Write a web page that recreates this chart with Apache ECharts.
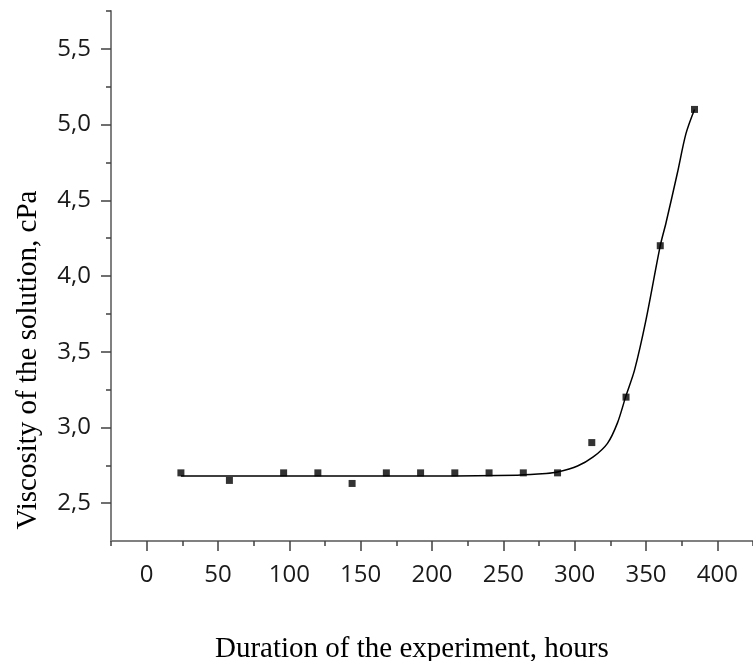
<!DOCTYPE html>
<html>
<head>
<meta charset="utf-8">
<script src="https://cdn.jsdelivr.net/npm/echarts@6/dist/echarts.min.js"></script>
<style>
  html, body { margin: 0; padding: 0; background: #fff; }
  #chart { width: 753px; height: 661px; }
</style>
</head>
<body>
<div id="chart"></div>
<script>
// measured points
const hours = [24, 58, 96, 120, 144, 168, 192, 216, 240, 264, 288, 312, 336, 360, 384]
const viscosity = [2.70, 2.65, 2.70, 2.70, 2.63, 2.70, 2.70, 2.70, 2.70, 2.70, 2.70, 2.90, 3.20, 4.20, 5.10]

// fitted curve
const fitHours = [24, 100, 200, 260, 280, 288, 302, 313, 323, 330, 336, 342, 350, 360, 364, 372, 378, 384]
const fitVisc = [2.68, 2.68, 2.68, 2.685, 2.695, 2.705, 2.745, 2.805, 2.895, 3.03, 3.21, 3.38, 3.71, 4.2, 4.35, 4.68, 4.94, 5.1]

// axis ticks
const xMajor = [0, 50, 100, 150, 200, 250, 300, 350, 400]
const xMinor = [-25, 25, 75, 125, 175, 225, 275, 325, 375, 425]
const yMajor = [2.5, 3.0, 3.5, 4.0, 4.5, 5.0, 5.5]
const yMinor = [2.75, 3.25, 3.75, 4.25, 4.75, 5.25, 5.75]

const xTitle = 'Duration of the experiment, hours'
const yTitle = 'Viscosity of the solution, cPa'

const chart = echarts.init(document.getElementById('chart'))

const labelFont = {
  fontFamily: 'Open Sans',
  fontSize: 24,
  color: '#1a1a1a'
}
const axisLine = { show: true, onZero: false, lineStyle: { color: '#808080', width: 2 } }

const option = {
  animation: false,
  grid: { left: 111, top: 11, right: -8.5, bottom: 120 },
  title: {
    text: xTitle,
    left: 210,
    top: 630,
    textStyle: { fontFamily: 'Liberation Serif', fontSize: 29, fontWeight: 'normal', color: '#000' }
  },
  graphic: [
    {
      type: 'text',
      x: 28,
      y: 360,
      rotation: Math.PI / 2,
      style: {
        text: yTitle,
        fontFamily: 'Liberation Serif',
        fontSize: 29,
        fill: '#000',
        align: 'center',
        verticalAlign: 'middle'
      }
    }
  ],
  xAxis: [
    {
      type: 'value',
      position: 'bottom',
      min: -25,
      max: 425,
      interval: 25,
      axisLine: axisLine,
      splitLine: { show: false },
      axisTick: { show: true, customValues: xMajor, length: 10, lineStyle: { color: '#404040', width: 1.5 } },
      axisLabel: Object.assign({ customValues: xMajor, margin: 22 }, labelFont)
    },
    {
      type: 'value',
      position: 'bottom',
      offset: 0,
      min: -25,
      max: 425,
      interval: 25,
      axisLine: { show: false, onZero: false },
      splitLine: { show: false },
      axisTick: { show: true, customValues: xMinor, length: 5, lineStyle: { color: '#404040', width: 1.5 } },
      axisLabel: { show: false }
    }
  ],
  yAxis: [
    {
      type: 'value',
      position: 'left',
      min: 2.25,
      max: 5.75,
      interval: 0.25,
      axisLine: axisLine,
      splitLine: { show: false },
      axisTick: { show: true, customValues: yMajor, length: 10, lineStyle: { color: '#404040', width: 1.5 } },
      axisLabel: Object.assign({
        customValues: yMajor,
        margin: 20,
        formatter: v => v.toFixed(1).replace('.', ',')
      }, labelFont)
    },
    {
      type: 'value',
      position: 'left',
      offset: 0,
      min: 2.25,
      max: 5.75,
      interval: 0.25,
      axisLine: { show: false, onZero: false },
      splitLine: { show: false },
      axisTick: { show: true, customValues: yMinor, length: 5, lineStyle: { color: '#404040', width: 1.5 } },
      axisLabel: { show: false }
    }
  ],
  series: [
    {
      type: 'line',
      name: 'fit',
      data: fitHours.map((h, i) => [h, fitVisc[i]]),
      smooth: 0.3,
      showSymbol: false,
      lineStyle: { color: '#000', width: 1.5 },
      z: 2
    },
    {
      type: 'scatter',
      name: 'viscosity',
      data: hours.map((h, i) => [h, viscosity[i]]),
      symbol: 'rect',
      symbolSize: 7,
      itemStyle: { color: '#000' },
      z: 3
    }
  ]
}

chart.setOption(option)
</script>
</body>
</html>
